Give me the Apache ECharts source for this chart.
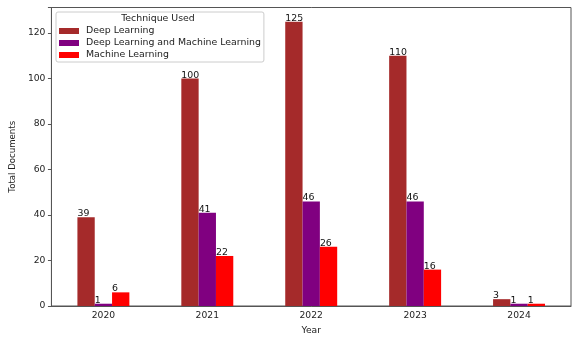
<!DOCTYPE html>
<html>
<head>
<meta charset="utf-8">
<script src="https://cdn.jsdelivr.net/npm/echarts@6/dist/echarts.min.js"></script>
<style>
  html, body { margin: 0; padding: 0; background: #fff; }
  #main { width: 587px; height: 340px; }
</style>
</head>
<body>
<div id="main"></div>
<script>
// data
var years = ['2020', '2021', '2022', '2023', '2024'];
var deepLearning = [39, 100, 125, 110, 3];
var deepAndMachine = [1, 41, 46, 46, 1];
var machineLearning = [6, 22, 26, 16, 1];
var yTicks = [0, 20, 40, 60, 80, 100, 120];

var font = 'DejaVu Sans';
var chart = echarts.init(document.getElementById('main'));

function barSeries(name, data, color) {
    return {
        name: name,
        type: 'bar',
        data: data,
        barGap: '0%',
        barCategoryGap: '50%',
        itemStyle: { color: color },
        label: {
            show: true,
            position: [0, 1],
            align: 'left',
            verticalAlign: 'bottom',
            color: '#111',
            fontSize: 9.4,
            fontFamily: font
        }
    };
}

var option = {
    animation: false,
    backgroundColor: '#fff',
    grid: {
        left: 51, right: 16, top: 7.5, bottom: 31,
        show: true, borderColor: '#555', borderWidth: 1
    },
    title: {
        text: 'Technique Used',
        left: 158, top: 14, textAlign: 'center', padding: 0,
        textStyle: { fontSize: 9.4, fontWeight: 'normal', color: '#222', fontFamily: font }
    },
    legend: {
        orient: 'vertical',
        left: 56, top: 12,
        padding: [13, 3, 1, 3],
        itemGap: 0,
        itemWidth: 20, itemHeight: 6,
        icon: 'rect',
        backgroundColor: '#fff',
        borderColor: '#ccc', borderWidth: 1, borderRadius: 2,
        textStyle: { fontSize: 9.4, lineHeight: 12, color: '#222', fontFamily: font, padding: [0, 0, 0, 2] }
    },
    xAxis: {
        type: 'category',
        data: years,
        name: 'Year',
        nameLocation: 'middle',
        nameGap: 20,
        nameTextStyle: { fontSize: 9.2, color: '#222', fontFamily: font },
        axisLine: { lineStyle: { color: '#555' } },
        axisTick: { alignWithLabel: true, length: 3.5, lineStyle: { color: '#555' } },
        axisLabel: { fontSize: 9.2, color: '#222', fontFamily: font, margin: 5 }
    },
    yAxis: {
        type: 'value',
        min: 0, max: 131.25, interval: 20,
        name: 'Total Documents',
        nameLocation: 'middle',
        nameGap: 32,
        nameTextStyle: { fontSize: 8.6, color: '#222', fontFamily: font },
        splitLine: { show: false },
        axisLine: { show: true, lineStyle: { color: '#555' } },
        axisTick: { show: true, length: 3.5, lineStyle: { color: '#555' } },
        axisLabel: {
            fontSize: 9.2, color: '#222', fontFamily: font, margin: 6,
            formatter: function (v) { return yTicks.indexOf(v) >= 0 ? String(v) : ''; }
        }
    },
    series: [
        barSeries('Deep Learning', deepLearning, '#a52a2a'),
        barSeries('Deep Learning and Machine Learning', deepAndMachine, '#800080'),
        barSeries('Machine Learning', machineLearning, '#ff0000')
    ]
};
chart.setOption(option);
</script>
</body>
</html>
